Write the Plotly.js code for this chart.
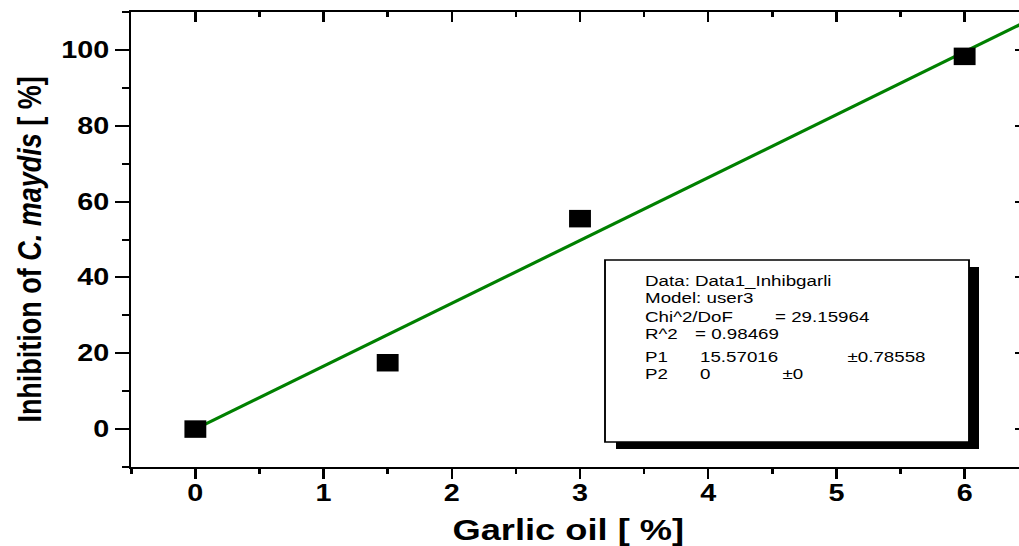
<!DOCTYPE html>
<html>
<head>
<meta charset="utf-8">
<script src="https://cdn.plot.ly/plotly-3.0.1.min.js"></script>
<style>
html,body{margin:0;padding:0;overflow:hidden;background:#fff;width:1019px;height:546px}
#plot{width:830px;height:546px;transform:scaleX(1.25);transform-origin:0 0}
</style>
</head>
<body>
<div id="plot"></div>
<script>
// ---- data ----
const garlicOil = [0, 1.5, 3, 6];
const inhibition = [0, 17.5, 55.5, 98.3];
const fitX = [0, 6.5];
const fitY = [0, 107.8];
const xTickVals = [0, 1, 2, 3, 4, 5, 6];
const yTickVals = [0, 20, 40, 60, 80, 100];
const xTitle = "Garlic oil [ %]";
const yTitle = "Inhibition of <i>C. maydis</i> [ %]";
const boxTexts = ["Data: Data1_Inhibgarli", "Model: user3", "Chi^2/DoF", "= 29.15964",
  "R^2", "= 0.98469", "P1", "15.57016", "\u00B10.78558", "P2", "0", "\u00B10"];

// ---- geometry (screen pixels of the final, horizontally stretched picture) ----
const S = 1.25;          // horizontal stretch
const W = 830, H = 546;
const L = 105, R = 7, T = 12, B = 79;
const PW = W - L - R, PH = H - T - B;
const fx = px => (px / S - L) / PW;
const fy = py => 1 - (py - T) / PH;

const font = "Liberation Sans, Arial, Helvetica, sans-serif";

// positions of the fit-box texts (left x, middle y) in screen pixels
const boxPos = [[642, 280.5], [642, 297.5], [642, 316.5], [773, 316.5], [642, 333.5], [693, 333.5],
  [642, 356.5], [697, 356.5], [845, 356.5], [642, 373.5], [697, 373.5], [780, 373.5]];

const annotations = boxTexts.map((t, i) => ({
  text: t, xref: "paper", yref: "paper", x: fx(boxPos[i][0]), y: fy(boxPos[i][1]),
  xanchor: "left", yanchor: "middle", showarrow: false,
  font: {family: font, size: 15, color: "#000"}
}));
annotations.push({
  text: xTitle, xref: "paper", yref: "paper", x: fx(568.5), y: fy(530),
  xanchor: "center", yanchor: "middle", showarrow: false,
  font: {family: font, size: 29, color: "#000", weight: "bold"}
});
annotations.push({
  text: yTitle, xref: "paper", yref: "paper", x: fx(29), y: fy(249.5), textangle: -90,
  xanchor: "center", yanchor: "middle", showarrow: false,
  font: {family: font, size: 27, color: "#000", weight: "bold"}
});

const traces = [
  {x: fitX, y: fitY, mode: "lines", type: "scatter", line: {color: "rgb(0,128,0)", width: 3},
   hoverinfo: "skip", cliponaxis: true},
  {x: garlicOil, y: inhibition, mode: "markers", type: "scatter",
   marker: {symbol: "square", size: 17.5, color: "#000"}, cliponaxis: false},
  {x: [], y: [], xaxis: "x2", yaxis: "y2", type: "scatter", mode: "markers", showlegend: false}
];

const tickFont = {family: font, size: 23, color: "#000", weight: "bold"};

const layout = {
  width: W, height: H,
  margin: {l: L, r: R, t: T, b: B, pad: 0},
  paper_bgcolor: "#fff", plot_bgcolor: "#fff",
  showlegend: false,
  xaxis: {
    range: [-0.5, 6.5], showgrid: false, zeroline: false, automargin: false,
    showline: true, linecolor: "#000", linewidth: 2,
    tickmode: "array", tickvals: xTickVals, ticks: "outside", ticklen: 10, tickwidth: 2, tickcolor: "#000",
    minor: {dtick: 0.5, tick0: 0, ticks: "outside", ticklen: 5, tickwidth: 2, tickcolor: "#000"},
    tickfont: tickFont, ticklabelstandoff: -6
  },
  yaxis: {
    range: [-10, 110], showgrid: false, zeroline: false, automargin: false,
    showline: true, linecolor: "#000", linewidth: 2,
    tickmode: "array", tickvals: yTickVals, ticks: "outside", ticklen: 11, tickwidth: 2, tickcolor: "#000",
    minor: {dtick: 10, tick0: 0, ticks: "outside", ticklen: 5.5, tickwidth: 2, tickcolor: "#000"},
    tickfont: tickFont, ticklabelstandoff: 0
  },
  xaxis2: {
    overlaying: "x", side: "top", anchor: "y", range: [-0.5, 6.5],
    showgrid: false, zeroline: false, showticklabels: false, automargin: false,
    showline: true, linecolor: "#000", linewidth: 2,
    tickmode: "array", tickvals: xTickVals, ticks: "inside", ticklen: 10, tickwidth: 2, tickcolor: "#000",
    minor: {dtick: 0.5, tick0: 0, ticks: "inside", ticklen: 5, tickwidth: 2, tickcolor: "#000"}
  },
  yaxis2: {
    overlaying: "y", side: "right", anchor: "x", range: [-10, 110],
    showgrid: false, zeroline: false, showticklabels: false, automargin: false,
    showline: true, linecolor: "#000", linewidth: 2,
    tickmode: "array", tickvals: yTickVals, ticks: "inside", ticklen: 11, tickwidth: 2, tickcolor: "#000"
  },
  shapes: [
    {type: "rect", xref: "paper", yref: "paper", x0: fx(616), x1: fx(979), y0: fy(449), y1: fy(267),
     fillcolor: "#000", line: {width: 0}, layer: "above"},
    {type: "rect", xref: "paper", yref: "paper", x0: fx(605), x1: fx(969), y0: fy(442), y1: fy(260),
     fillcolor: "#fff", line: {color: "#000", width: 1.5}, layer: "above"}
  ],
  annotations: annotations
};

Plotly.newPlot("plot", traces, layout, {displayModeBar: false, staticPlot: true});
</script>
</body>
</html>
